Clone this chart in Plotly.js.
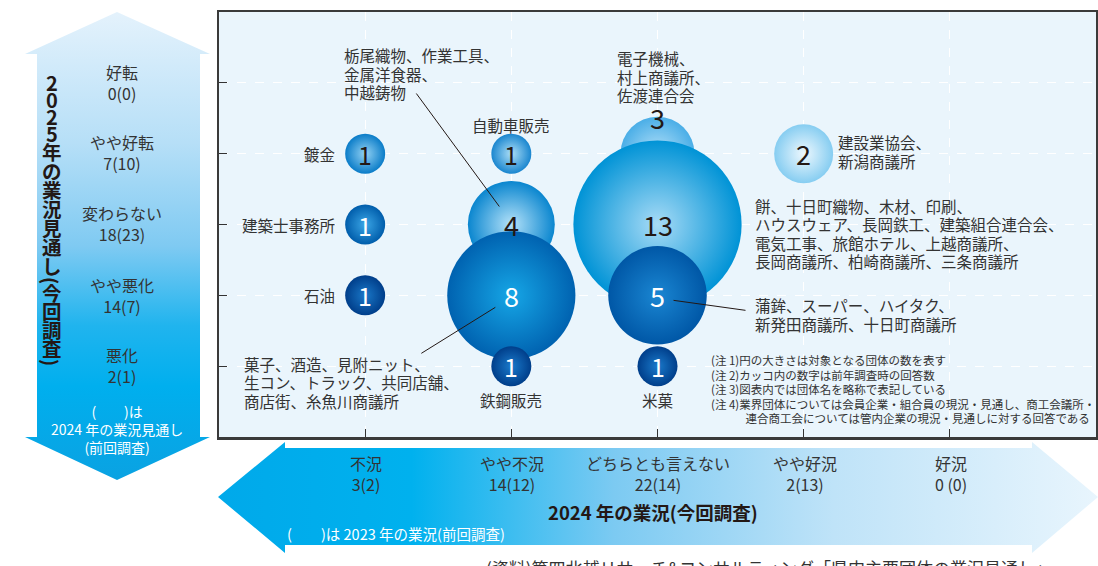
<!DOCTYPE html>
<html><head><meta charset="utf-8">
<script src="https://cdn.plot.ly/plotly-3.0.1.min.js"></script>
<style>html,body{margin:0;padding:0;background:#fff;}#chart{width:1098px;height:566px;}</style>
</head><body><div id="chart"></div>
<script>
// ---------------- DATA ----------------
const xCategories = ['不況','やや不況','どちらとも言えない','やや好況','好況'];
const xCounts = ['3(2)','14(12)','22(14)','2(13)','0 (0)'];
const yCategories = ['悪化','やや悪化','変わらない','やや好転','好転'];
const yCounts = ['2(1)','14(7)','18(23)','7(10)','0(0)'];

const groupX = ['どちらとも言えない','どちらとも言えない','どちらとも言えない','やや不況','やや不況','不況','不況','不況','やや不況','やや不況','どちらとも言えない','やや好況'];
const groupY = ['やや好転','変わらない','やや悪化','変わらない','やや悪化','やや好転','変わらない','やや悪化','やや好転','悪化','悪化','やや好転'];
const groupCount = [3,13,5,4,8,1,1,1,1,1,1,2];
const groupNames = [
  '電子機械、<br>村上商議所、<br>佐渡連合会',
  '餅、十日町織物、木材、印刷、<br>ハウスウェア、長岡鉄工、建築組合連合会、<br>電気工事、旅館ホテル、上越商議所、<br>長岡商議所、柏崎商議所、三条商議所',
  '蒲鉾、スーパー、ハイタク、<br>新発田商議所、十日町商議所',
  '栃尾織物、作業工具、<br>金属洋食器、<br>中越鋳物',
  '菓子、酒造、見附ニット、<br>生コン、トラック、共同店舗、<br>商店街、糸魚川商議所',
  '鍍金','建築士事務所','石油','自動車販売','鉄鋼販売','米菓',
  '建設業協会、<br>新潟商議所'
];
const notes = [
  '(注 1)円の大きさは対象となる団体の数を表す',
  '(注 2)カッコ内の数字は前年調査時の回答数',
  '(注 3)図表内では団体名を略称で表記している',
  '(注 4)業界団体については会員企業・組合員の現況・見通し、商工会議所・',
  '\u3000\u3000\u3000連合商工会については管内企業の現況・見通しに対する回答である'
];
// vertical title, in runs: [text, first glyph y, step]
const yTitleRuns = [['2025', 82, 17], ['年の業況見通し', 152, 19], ['(', 280, 0], ['今回調査', 293, 18.3], [')', 362, 0]];
const xTitle = '2024 年の業況(今回調査)';
const yPrevNote = '(\u3000\u3000)は<br>2024 年の業況見通し<br>(前回調査)';
const xPrevNote = '(\u3000\u3000)は 2023 年の業況(前回調査)';
const source = '(資料)第四北越リサーチ&コンサルティング「県内主要団体の業況見通し」';

// ---------------- STYLE ----------------
const FONT = '"Noto Sans CJK JP", "Noto Sans", sans-serif';
const TXT = '#333333';
const edgeColor   = ['#4aaee7','#0093d6','#0057a6','#0a86cf','#0062b0','#0a7cc8','#005dab','#003e8a','#1a86cf','#003e8a','#003e8a','#86cdf1'];
const centerColor = ['#b3e0f8','#a8dbf6','#1a86d2','#b5e2f9','#16a6e6','#93d2f4','#3ba6e6','#1a78c8','#acdef7','#1a7acb','#1a7acb','#eef8fe'];
const numColor    = ['#231815','#231815','#ffffff','#231815','#ffffff','#231815','#ffffff','#ffffff','#231815','#ffffff','#ffffff','#231815'];
const numShiftY   = [36,0,0,0,0,0,0,0,0,0,0,0];
// label placement: [xshift, yshift(block centre), xanchor]
const labelPlace = [
  [-43, 77, 'left'], [95, -9, 'left'], [95, -19, 'left'], [-169, 151, 'left'], [-269, -87, 'left'],
  [-28, 0, 'right'], [-28, 0, 'right'], [-28, 0, 'right'],
  [0, 29, 'center'], [0, -34, 'center'], [0, -34, 'center'],
  [32, 2, 'left']
];
const LABEL_LS = 18.6;
// leader lines: index -> [x0,y0,x1,y1] pixel offsets from bubble centre
const leaders = {3: [-95, 131, -12, 18], 4: [-90, -58, -16, -12], 2: [16, -5, 88, -15]};

const W = 1098, H = 566;
const px = x => x / W;
const py = y => 1 - y / H;

const xi = groupX.map(c => xCategories.indexOf(c));
const yi = groupY.map(c => yCategories.indexOf(c));
const bubbleDiameter = n => 40 * Math.pow(n, 0.56);

// ---------------- TRACES ----------------
const traces = [];
const up = a => a.map(v => H - v);
traces.push({
  type: 'scatter', mode: 'lines', xaxis: 'x2', yaxis: 'y2', hoverinfo: 'skip',
  x: [117, 210, 200, 200, 210, 117, 25, 37, 37, 25, 117],
  y: up([12, 54, 54, 437, 437, 480, 437, 437, 54, 54, 12]),
  fill: 'toself', line: {width: 0},
  fillgradient: {type: 'vertical', colorscale: [[0,'#0aa2e2'],[0.2,'#00afee'],[0.33,'#20b4ee'],[0.5,'#7fcaf2'],[0.72,'#b6dff7'],[1,'#e4f2fc']]}
});
traces.push({
  type: 'scatter', mode: 'lines', xaxis: 'x2', yaxis: 'y2', hoverinfo: 'skip',
  x: [218, 285, 285, 1032, 1032, 1098, 1032, 1032, 285, 285, 218],
  y: up([497, 442, 448, 448, 442, 497, 553, 545, 545, 553, 497]),
  fill: 'toself', line: {width: 0},
  fillgradient: {type: 'horizontal', colorscale: [[0,'#00a9ea'],[0.22,'#00b1ee'],[0.45,'#7ccaf2'],[0.7,'#bfe3f8'],[1,'#e8f5fd']]}
});
traces.push({
  type: 'scatter', mode: 'markers', xaxis: 'x', yaxis: 'y', hoverinfo: 'skip',
  x: xi, y: yi,
  marker: {
    size: groupCount.map(bubbleDiameter), sizemode: 'diameter',
    color: edgeColor, opacity: 1, line: {width: 0},
    gradient: {type: 'radial', color: centerColor}
  },
  cliponaxis: false
});

// ---------------- ANNOTATIONS ----------------
const ann = [];
const paperText = (x, y, text, font, extra) => Object.assign({
  x: px(x), y: py(y), xref: 'paper', yref: 'paper', xanchor: 'center', yanchor: 'middle',
  showarrow: false, text: text, font: Object.assign({family: FONT, color: TXT}, font)
}, extra || {});

groupCount.forEach((n, i) => {
  ann.push({x: xi[i], y: yi[i], xref: 'x', yref: 'y', xanchor: 'center', yanchor: 'middle', text: String(n), showarrow: false,
    yshift: numShiftY[i], font: {family: FONT, size: n === 1 ? 25 : 27, color: numColor[i]}});
  const [dx, dy, anc] = labelPlace[i];
  const lines = groupNames[i].split('<br>');
  lines.forEach((ln, j) => {
    ann.push({x: xi[i], y: yi[i], xref: 'x', yref: 'y', text: ln, showarrow: false,
      xanchor: anc, yanchor: 'middle', xshift: dx, yshift: dy + (lines.length - 1) / 2 * LABEL_LS - j * LABEL_LS,
      font: {family: FONT, size: 15.5, color: TXT}});
  });
});
// notes
notes.forEach((t, j) => ann.push(paperText(709, 360 + j * 14.5, t, {size: 11.5}, {xanchor: 'left'})));
// left arrow labels
const yLabelPos = [365, 295, 224, 153, 83];
yCategories.forEach((c, i) => {
  ann.push(paperText(122, yLabelPos[i], c + '<br>' + yCounts[i], {size: 16}));
});
// vertical title: each run is one text block, one glyph per line; line spacing = 1.3 * base font size
yTitleRuns.forEach(([txt, y0, step]) => {
  const g = Array.from(txt);
  if (step === 0) {
    ann.push(paperText(52, y0, '<b>' + txt + '</b>', {size: 19, color: '#231815'}, {textangle: 90}));
    return;
  }
  const body = g.map(c => '<span style="font-size:' + (/[0-9]/.test(c) ? 20 : 19.5) + 'px"><b>' + c + '</b></span>').join('<br>');
  const yc = y0 + (g.length - 1) * step / 2;
  ann.push(paperText(52, yc, body, {size: step / 1.3, color: '#231815'}));
});
ann.push(paperText(117, 429, yPrevNote, {size: 14, color: '#ffffff'}));
// bottom arrow labels
const xLabelPos = [366, 512, 658, 805, 951];
xCategories.forEach((c, i) => {
  ann.push(paperText(xLabelPos[i], 473, c + '<br>' + xCounts[i], {size: 16}));
});
ann.push(paperText(653, 512, '<b>' + xTitle + '</b>', {size: 18.5, color: '#231815'}));
ann.push(paperText(285, 533, xPrevNote, {size: 14.5, color: '#ffffff'}, {xanchor: 'left'}));
ann.push(paperText(484, 567, source, {size: 17}, {xanchor: 'left'}));

// ---------------- SHAPES ----------------
const shapes = [{type: 'rect', xref: 'x domain', yref: 'y domain', x0: 0, x1: 1, y0: 0, y1: 1,
  fillcolor: '#eaf5fc', line: {width: 0}, layer: 'below'}];
Object.keys(leaders).forEach(k => {
  const i = +k, L = leaders[k];
  shapes.push({type: 'line', xref: 'x', yref: 'y', xsizemode: 'pixel', ysizemode: 'pixel',
    xanchor: xi[i], yanchor: yi[i], x0: L[0], y0: L[1], x1: L[2], y1: L[3],
    line: {color: '#231815', width: 1}});
});

const axisCommon = {
  range: [-1, 5], autorange: false, showgrid: true, gridcolor: '#ffffff', griddash: 'dash', gridwidth: 1,
  ticks: 'inside', ticklen: 8, tickwidth: 1, tickcolor: '#333', showticklabels: false,
  showline: true, linecolor: '#3a3a3a', mirror: true, zeroline: false, fixedrange: true
};
const layout = {
  width: W, height: H, margin: {l: 0, r: 0, t: 0, b: 0, autoexpand: false},
  paper_bgcolor: '#ffffff', plot_bgcolor: 'rgba(0,0,0,0)', showlegend: false, hovermode: false,
  xaxis: Object.assign({}, axisCommon, {domain: [px(219), px(1096)], tickvals: xCategories.map((_, i) => i), linewidth: 2.5}),
  yaxis: Object.assign({}, axisCommon, {domain: [py(437), py(12)], tickvals: yCategories.map((_, i) => i), linewidth: 2}),
  xaxis2: {domain: [0, 1], range: [0, W], visible: false, fixedrange: true, anchor: 'y2'},
  yaxis2: {domain: [0, 1], range: [0, H], visible: false, fixedrange: true, anchor: 'x2'},
  annotations: ann, shapes: shapes
};
Plotly.newPlot('chart', traces, layout, {displayModeBar: false, staticPlot: true});
</script></body></html>
